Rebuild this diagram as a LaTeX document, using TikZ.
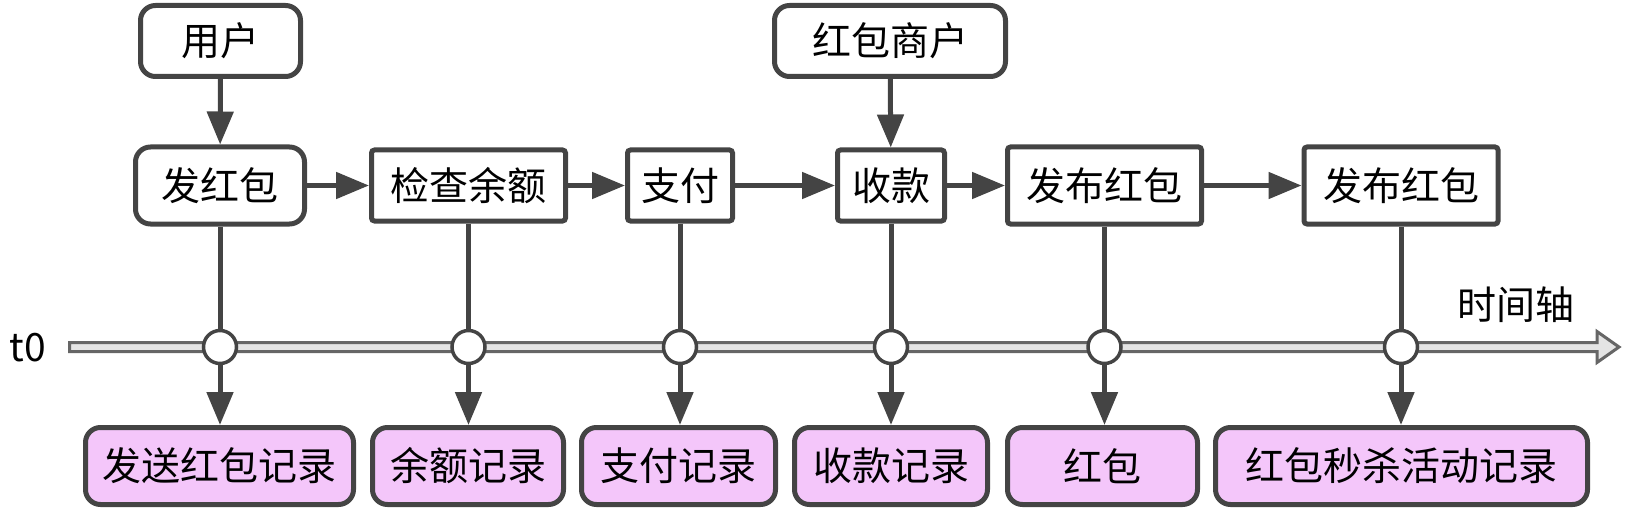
\documentclass[tikz,border=0pt]{standalone}
\usepackage{fontspec}
\setmainfont{Noto Sans CJK SC}
\usetikzlibrary{arrows.meta}
\definecolor{edge}{RGB}{68,68,68}
\definecolor{pinkfill}{RGB}{244,198,250}
\definecolor{axisedge}{RGB}{102,102,102}
\definecolor{axisfill}{RGB}{228,228,228}
\begin{document}
\begin{tikzpicture}[x=1pt,y=-1pt,
  every node/.style={font=\fontsize{39}{42}\selectfont, text=black, inner sep=0pt},
  rbox/.style={draw=edge, line width=5pt, fill=white, rounded corners=15pt},
  sbox/.style={draw=edge, line width=5pt, fill=white, rounded corners=3pt},
  rec/.style={draw=edge, line width=5pt, fill=pinkfill, rounded corners=15pt, minimum height=77pt},
  dot/.style={circle, draw=edge, line width=3.5pt, fill=white, minimum size=33pt},
  conn/.style={draw=edge, line width=5pt},
  arr/.style={conn, -{Triangle[length=33pt,width=26pt]}},
]
\useasboundingbox (0,0) rectangle (1626,508);
% time axis
\draw[draw=axisedge, fill=axisfill, line width=3pt, line join=miter]
  (69.5,342.5) -- (1597,342.5) -- (1597,331.5) -- (1619,347) -- (1597,362.5)
  -- (1597,351.5) -- (69.5,351.5) -- cycle;
\node (t0) at (28,348) {t0};
\node (axis) at (1516,305) {时间轴};
% top row
\node[rbox, minimum width=160pt, minimum height=71pt] (user) at (220.5,41) {用户};
\node[rbox, minimum width=231pt, minimum height=71pt] (merchant) at (890,41) {红包商户};
% middle row
\node[rbox, minimum width=169pt, minimum height=77pt] (send) at (220,185.5) {发红包};
\node[sbox, minimum width=194pt, minimum height=71pt] (check) at (468.5,185.5) {检查余额};
\node[sbox, minimum width=105pt, minimum height=71pt] (pay) at (680,185.5) {支付};
\node[sbox, minimum width=107pt, minimum height=71pt] (recv) at (891,185.5) {收款};
\node[sbox, minimum width=194pt, minimum height=77pt] (pub1) at (1104.5,185.5) {发布红包};
\node[sbox, minimum width=194pt, minimum height=77pt] (pub2) at (1401,185.5) {发布红包};
% circles on axis
\node[dot] (c1) at (220,347) {};
\node[dot] (c2) at (468.5,347) {};
\node[dot] (c3) at (680,347) {};
\node[dot] (c4) at (891,347) {};
\node[dot] (c5) at (1104.5,347) {};
\node[dot] (c6) at (1401,347) {};
% records
\node[rec, minimum width=268pt] (r1) at (219.5,466) {发送红包记录};
\node[rec, minimum width=191pt] (r2) at (468,466) {余额记录};
\node[rec, minimum width=194pt] (r3) at (678.5,466) {支付记录};
\node[rec, minimum width=193pt] (r4) at (891,466) {收款记录};
\node[rec, minimum width=190pt] (r5) at (1102.5,466) {红包};
\node[rec, minimum width=372pt] (r6) at (1401.5,466) {红包秒杀活动记录};
% connectors
\draw[arr] (user) -- (send);
\draw[arr] (merchant) -- (recv);
\draw[arr] (send) -- (check);
\draw[arr] (check) -- (pay);
\draw[arr] (pay) -- (recv);
\draw[arr] (recv) -- (pub1);
\draw[arr] (pub1) -- (pub2);
\foreach \a/\c/\r in {send/c1/r1, check/c2/r2, pay/c3/r3, recv/c4/r4, pub1/c5/r5, pub2/c6/r6}{
  \draw[conn] (\a) -- (\c);
  \draw[arr] (\c) -- (\c |- \r.north);
}
\end{tikzpicture}
\end{document}
